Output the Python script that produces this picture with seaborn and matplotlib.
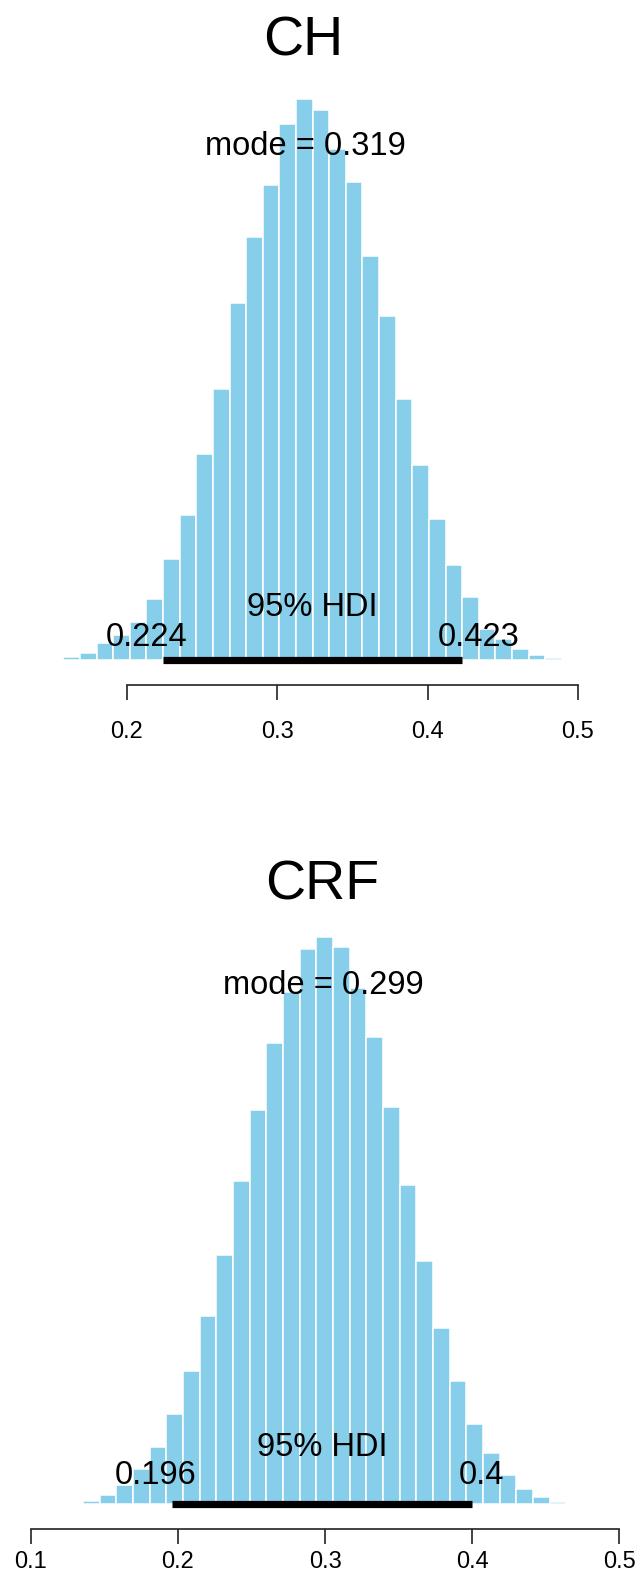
"""Posterior histograms for CH and CRF (BEST-style plotPost look)."""

import matplotlib
matplotlib.use("Agg")
import matplotlib.pyplot as plt
import matplotlib.transforms as mtransforms
import numpy as np
import pandas as pd
import seaborn as sns

# ---- data ----
ch_heights = [0.002, 0.006, 0.013, 0.030, 0.045, 0.068, 0.109, 0.179, 0.259, 0.366,
              0.483, 0.635, 0.754, 0.846, 0.954, 1.000, 0.980, 0.910, 0.852, 0.719,
              0.613, 0.464, 0.348, 0.251, 0.169, 0.112, 0.055, 0.037, 0.019, 0.009,
              0.004, 0.0015]
ch_start = 0.1466
ch_hdi = [0.224, 0.423]
ch_mode = 0.319
ch_ticks = [0.2, 0.3, 0.4, 0.5]

crf_heights = [0.002, 0.006, 0.016, 0.033, 0.062, 0.101, 0.158, 0.235, 0.332, 0.440,
               0.570, 0.695, 0.813, 0.903, 0.978, 1.000, 0.982, 0.910, 0.824, 0.701,
               0.563, 0.428, 0.310, 0.217, 0.141, 0.090, 0.051, 0.026, 0.012, 0.004,
               0.0015]
crf_start = 0.124
crf_hdi = [0.196, 0.4]
crf_mode = 0.299
crf_ticks = [0.1, 0.2, 0.3, 0.4, 0.5]

W, H = 640, 1576
DPI = 100

sns.set_style("white")
plt.rcParams["font.family"] = ["Liberation Sans", "DejaVu Sans"]
plt.rcParams["text.color"] = "black"


def fmt(v):
    return f"{v:g}"


def place_adj(ax, x, y_px, s, frac, size):
    """Text anchored at `frac` of its width (like R's adj), y offset in px."""
    t = ax.text(x, 0, s, ha="left", va="baseline", fontsize=size, clip_on=False)
    fig = ax.figure
    r = fig.canvas.get_renderer()
    w = t.get_window_extent(renderer=r).width
    off = mtransforms.ScaledTranslation(-frac * w / DPI, y_px / DPI, fig.dpi_scale_trans)
    t.set_transform(ax.transData + off)
    return t


def panel(fig, rect, heights, start, hdi, mode, ticks, xlim, title, title_x, title_y,
          label_pad, hdi_lift, hdi_txt_lift):
    ax = fig.add_axes(rect)
    width = (hdi[1] - hdi[0]) / 18
    edges = start + width * np.arange(len(heights) + 1)
    df = pd.DataFrame({"x": (edges[:-1] + edges[1:]) / 2, "w": heights})
    sns.histplot(data=df, x="x", weights="w", bins=list(edges), stat="count",
                 color="#87CEEB", edgecolor="white", linewidth=1.1, alpha=1,
                 ax=ax)
    ax.set_xlim(*xlim)
    ax.set_ylim(0, max(heights))
    ax.set_ylabel("")
    ax.set_xlabel("")
    ax.set_yticks([])
    for side in ["left", "right", "top"]:
        ax.spines[side].set_visible(False)
    sp = ax.spines["bottom"]
    sp.set_position(("outward", 18))
    sp.set_bounds(ticks[0], ticks[-1])
    sp.set_color("#222222")
    sp.set_linewidth(1.2)
    ax.set_xticks(ticks)
    ax.set_xticklabels([fmt(t) for t in ticks])
    ax.tick_params(axis="x", bottom=True, direction="out", length=11, width=1.2,
                   color="#222222", pad=label_pad, labelsize=17, labelcolor="black")

    # HDI bar
    ax.plot(hdi, [0, 0], color="black", lw=5.2, solid_capstyle="butt", clip_on=False)
    top = max(heights)
    ax.text(mode, 0.9 * top, f"mode = {fmt(mode)}", ha="center", va="baseline",
            fontsize=23.5)
    place_adj(ax, np.mean(hdi), hdi_txt_lift, "95% HDI", 0.5, 23.5)
    place_adj(ax, hdi[0], hdi_lift, fmt(hdi[0]), 0.7, 23.5)
    place_adj(ax, hdi[1], hdi_lift, fmt(hdi[1]), 0.3, 23.5)

    fig.text(title_x, title_y, title, ha="center", va="baseline", fontsize=40)
    return ax


fig = plt.figure(figsize=(W / DPI, H / DPI), dpi=DPI)

# top panel: baseline at 660 px, peak at 98.5 px
panel(fig, [0, 1 - 660 / H, 1, (660 - 98.5) / H], ch_heights, ch_start, ch_hdi,
      ch_mode, ch_ticks, (0.2 - 127 / 1503, 0.2 + 513 / 1503), "CH",
      303 / W, 1 - 55 / H, 15, 14, 44)

# bottom panel: baseline at 1504 px, peak at 937 px
panel(fig, [0, 1 - 1504 / H, 1, (1504 - 937) / H], crf_heights, crf_start, crf_hdi,
      crf_mode, crf_ticks, (0.2 - 178 / 1471, 0.2 + 462 / 1471), "CRF",
      322 / W, 1 - 899 / H, 5, 20, 48)

fig.savefig("out.png", dpi=DPI)
plt.close(fig)
